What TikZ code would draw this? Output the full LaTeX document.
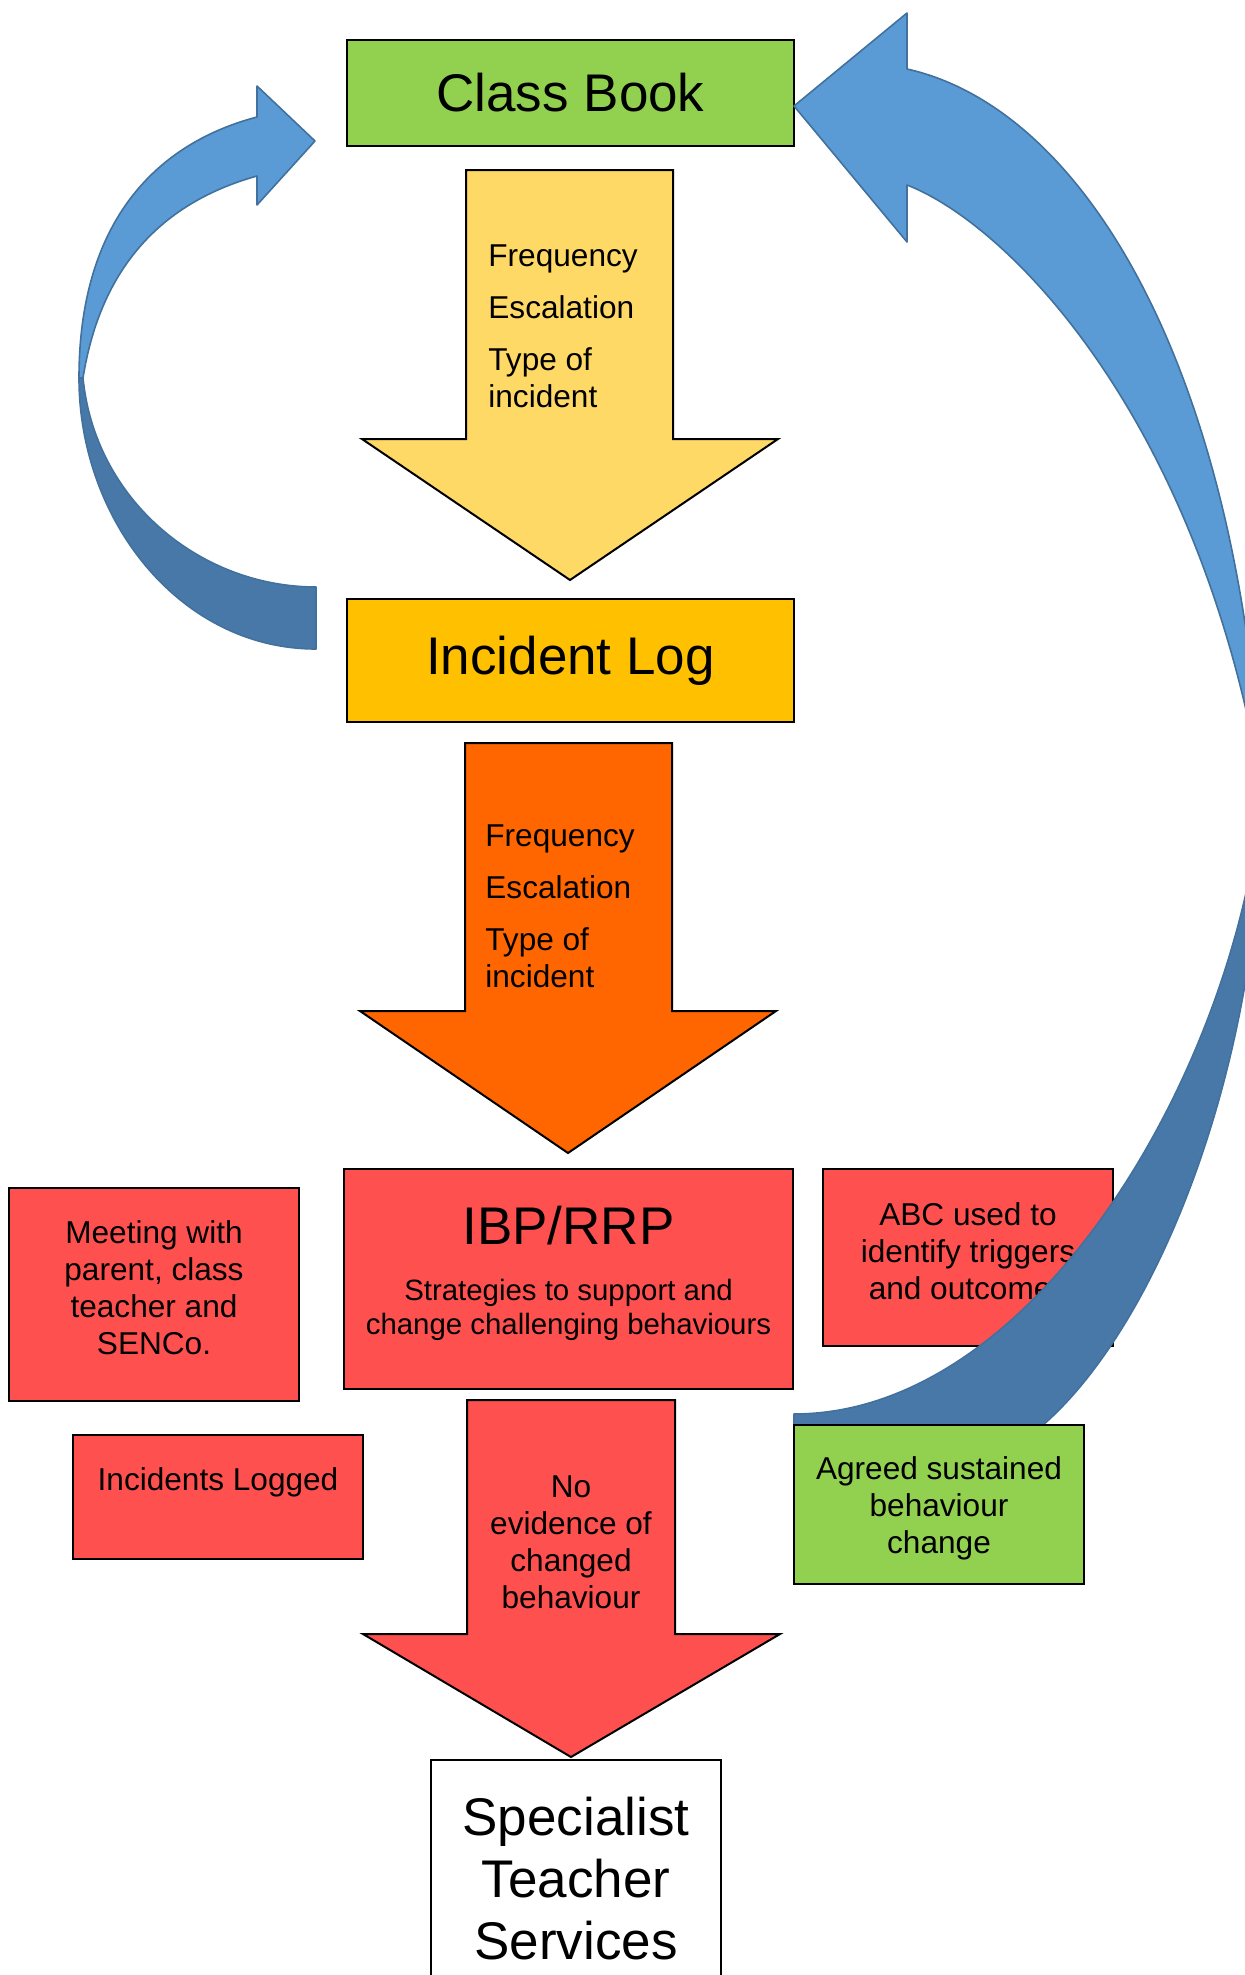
\documentclass[tikz,border=0pt]{standalone}
\usepackage{fontspec}
\setmainfont{Liberation Sans}
\usetikzlibrary{positioning}

\definecolor{bookgreen}{HTML}{92D050}
\definecolor{logamber}{HTML}{FFC000}
\definecolor{arrowyellow}{HTML}{FFD966}
\definecolor{arroworange}{HTML}{FF6600}
\definecolor{planred}{HTML}{FF5050}
\definecolor{loopblue}{HTML}{5B9BD5}
\definecolor{loopdark}{HTML}{4878A8}
\definecolor{loopedge}{HTML}{41719C}

\tikzset{
  box/.style={rectangle, draw=black, line width=0.75pt, inner sep=0pt, align=center},
  blockarrow/.style={draw=black, line width=1pt, line join=miter},
  loopband/.style={draw=loopedge, line width=0.8pt, line join=round},
  bigtext/.style={font=\fontsize{26.5pt}{31pt}\selectfont},
  midtext/.style={font=\fontsize{15.8pt}{18.5pt}\selectfont},
  smalltext/.style={font=\fontsize{14.7pt}{17pt}\selectfont},
}

\begin{document}
\begin{tikzpicture}[x=0.5pt, y=-0.5pt]
	\clip (0,0) rectangle (1245,1975);
	\fill[white] (0,0) rectangle (1245,1975);

	% class book and first arrow
	\node[box, fill=bookgreen, minimum width=223.5pt, minimum height=53pt, bigtext] (classbook) at (570.5,93) {Class Book};
	\draw[blockarrow, fill=arrowyellow] (466,170) -- (673,170) -- (673,439) -- (778,439) -- (570,580) -- (362,439) -- (466,439) -- cycle;
	\node[midtext, align=left, anchor=west, inner sep=0pt] (bookcriteria) at (488,326) {Frequency\\[7.5pt]Escalation\\[7.5pt]Type of\\incident};

	% incident log and second arrow
	\node[box, fill=logamber, minimum width=223.5pt, minimum height=61.5pt, bigtext] (incidentlog) at (570.5,660.5) {Incident Log};
	\draw[blockarrow, fill=arroworange] (465,743) -- (672,743) -- (672,1011) -- (776,1011) -- (568,1153) -- (360,1011) -- (465,1011) -- cycle;
	\node[midtext, align=left, anchor=west, inner sep=0pt] (logcriteria) at (485,906) {Frequency\\[7.5pt]Escalation\\[7.5pt]Type of\\incident};

	% left loop arrow
	\filldraw[loopband, fill=loopdark] (79,378) .. controls (79,520) and (180,649) .. (316,649) -- (316,587) .. controls (200,587) and (95,500) .. (83,378) -- cycle;
	\filldraw[loopband, fill=loopblue] (79,378) .. controls (79,227) and (151,145) .. (257,117) -- (257,86) -- (315,141) -- (257,205) -- (257,176) .. controls (164,202) and (101,265) .. (83,378) -- cycle;

	% plan row
	\node[box, fill=planred, minimum width=224.5pt, minimum height=110pt] (ibp) at (568.5,1279) {};
	\node[bigtext, inner sep=0pt] (ibptitle) at (568.5,1226) {IBP/RRP};
	\node[smalltext, align=center, inner sep=0pt] (ibpsub) at (568.5,1310) {Strategies to support and\\change challenging behaviours};
	\node[box, fill=planred, minimum width=145pt, minimum height=106.5pt] (meeting) at (154,1294.5) {};
	\node[midtext, align=center, inner sep=0pt] (meetingtext) at (154,1288) {Meeting with\\parent, class\\teacher and\\SENCo.};
	\node[box, fill=planred, minimum width=145pt, minimum height=88.5pt] (abc) at (968,1257.5) {};
	\node[midtext, align=center, inner sep=0pt] (abctext) at (968,1251.5) {ABC used to\\identify triggers\\and outcomes};

	% right loop arrow
	\filldraw[loopband, fill=loopblue] (907,69) .. controls (1090,110) and (1240,380) .. (1262,790) .. controls (1200,420) and (1010,225) .. (907,185) -- (907,242) -- (794,106) -- (907,13) -- cycle;
	\filldraw[loopband, fill=loopdark] (1262,790) .. controls (1262,1060) and (1160,1323) .. (1043,1425) -- (990,1465) -- (794,1478) -- (794,1414) .. controls (1040,1414) and (1240,1060) .. (1262,790) -- cycle;

	% outcomes
	\node[box, fill=planred, minimum width=145pt, minimum height=62pt] (logged) at (218,1497) {};
	\node[midtext, inner sep=0pt] (loggedtext) at (218,1482) {Incidents Logged};
	\node[box, fill=bookgreen, minimum width=145pt, minimum height=79.5pt] (agreed) at (939,1504.5) {};
	\node[midtext, align=center, inner sep=0pt] (agreedtext) at (939,1508.5) {Agreed sustained\\behaviour\\change};
	\draw[blockarrow, fill=planred] (467,1400) -- (675,1400) -- (675,1634) -- (780,1634) -- (571,1757) -- (363,1634) -- (467,1634) -- cycle;
	\node[midtext, align=center, inner sep=0pt] (nochange) at (571,1542) {No\\evidence of\\changed\\behaviour};
	\node[box, fill=white, minimum width=145pt, minimum height=125pt] (specialist) at (576,1885) {};
	\node[bigtext, align=center, inner sep=0pt] (specialisttext) at (576,1879) {Specialist\\Teacher\\Services};
\end{tikzpicture}
\end{document}
